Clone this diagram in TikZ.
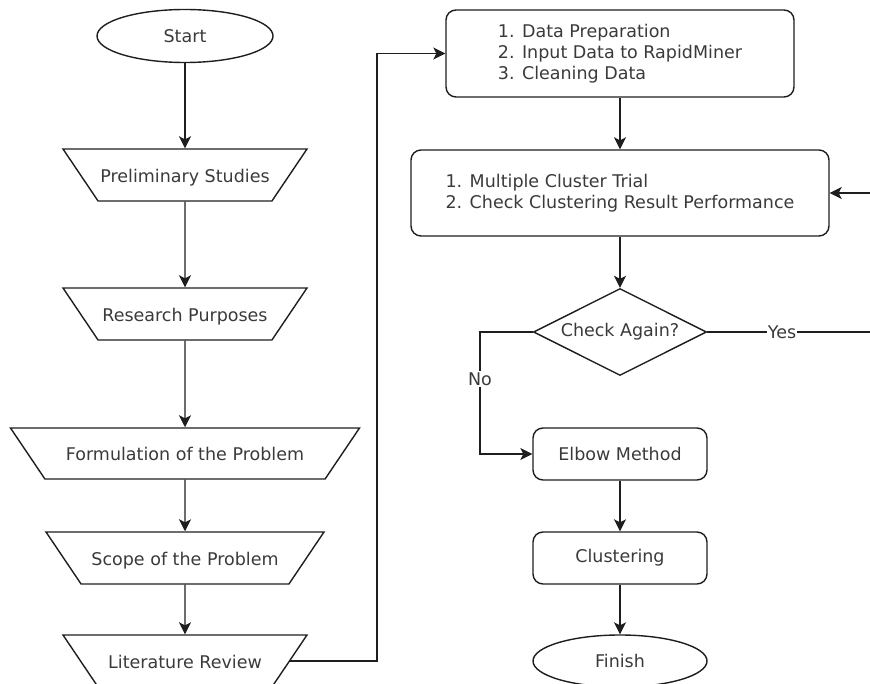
\documentclass[tikz,border=0pt]{standalone}
\usepackage{fontspec}
\setmainfont{DejaVu Sans}
\usepackage{tikz}
\usetikzlibrary{shapes.geometric,arrows.meta,positioning}
\definecolor{flowLine}{HTML}{1E1E1E}
\definecolor{flowText}{HTML}{3A3A3A}

\begin{document}
\begin{tikzpicture}[
    x=1pt, y=-1pt,
    every node/.style = {font=\fontsize{17.5}{21}\selectfont, text=flowText},
    terminal/.style   = {ellipse, draw=flowLine, line width=1.4pt, inner sep=0pt, minimum width=176, minimum height=53},
    trapbox/.style    = {trapezium, trapezium left angle=56, trapezium right angle=56, trapezium stretches body=true,
                         shape border rotate=180, draw=flowLine, line width=1.4pt, text height=16pt, text depth=1.5pt,
                         inner xsep=0pt, inner ysep=17.25pt},
    procbox/.style    = {rectangle, rounded corners=10pt, draw=flowLine, line width=1.4pt, inner sep=0pt},
    listbox/.style    = {procbox, align=left},
    decide/.style     = {diamond, aspect=2, draw=flowLine, line width=1.4pt, inner sep=0pt, minimum width=173, minimum height=87},
    flow/.style       = {draw=flowLine, line width=1.4pt, -{Stealth[length=12pt, width=12pt, inset=3pt]}},
    branchlbl/.style  = {fill=white, inner sep=1pt}
  ]
  \useasboundingbox (0,0) rectangle (870,684);

  % left column
  \node[terminal] (start) at (185,36) {Start};
  \node[trapbox, minimum width=244] (prelim)  at (185,175)   {Preliminary Studies};
  \node[trapbox, minimum width=244] (purpose) at (185,314)   {Research Purposes};
  \node[trapbox, minimum width=349, inner ysep=16.75pt] (formul) at (185,453.5) {Formulation of the Problem};
  \node[trapbox, minimum width=278] (scope)   at (185,558)   {Scope of the Problem};
  \node[trapbox, minimum width=244] (litrev)  at (185,661)   {Literature Review};

  % right column
  \node[listbox, minimum width=348, minimum height=87] (prep) at (620,53.5)
    {1. Data Preparation\\2. Input Data to RapidMiner\\3. Cleaning Data};
  \node[listbox, minimum width=418, minimum height=86] (trial) at (620,193)
    {1. Multiple Cluster Trial\\2. Check Clustering Result Performance};
  \node[decide] (check) at (620,332) {Check Again?};
  \node[procbox, minimum width=174, minimum height=52] (elbow) at (620,454) {Elbow Method};
  \node[procbox, minimum width=174, minimum height=52] (clust) at (620,558) {Clustering};
  \node[terminal, minimum width=174, minimum height=52] (finish) at (620,661) {Finish};

  \coordinate (litBend) at (377,300);
  \coordinate (yesPt)   at (782,332);
  \coordinate (loopR)   at (882,332);
  \coordinate (noPt)    at (480,379);

  \draw[flow] (start) -- (prelim);
  \draw[flow] (prelim) -- (purpose);
  \draw[flow] (purpose) -- (formul);
  \draw[flow] (formul) -- (scope);
  \draw[flow] (scope) -- (litrev);
  \draw[flow] (litrev.east) -| (litBend) |- (prep.west);
  \draw[flow] (prep) -- (trial);
  \draw[flow] (trial) -- (check);
  \draw[flow] (check.east) -- (yesPt) node[branchlbl] {Yes} -- (loopR) |- (trial.east);
  \draw[flow] (check.west) -| (noPt) node[branchlbl] {No} |- (elbow.west);
  \draw[flow] (elbow) -- (clust);
  \draw[flow] (clust) -- (finish);
\end{tikzpicture}
\end{document}
